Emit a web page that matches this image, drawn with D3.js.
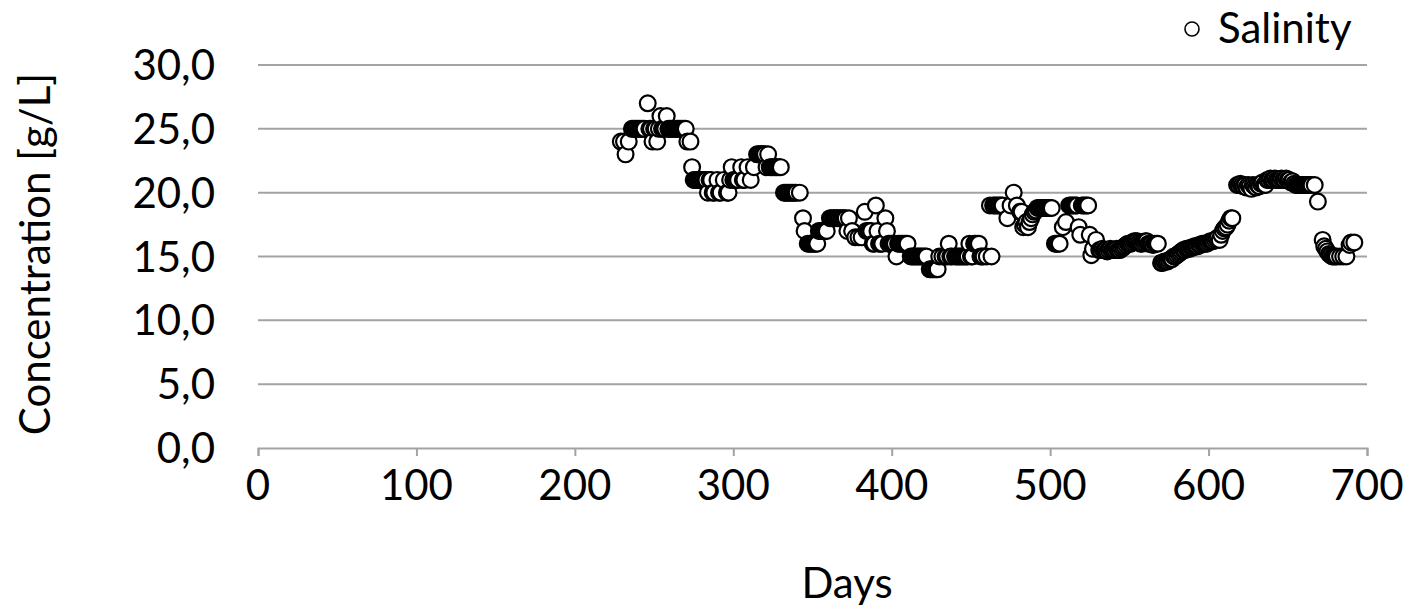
<!DOCTYPE html>
<html>
<head>
<meta charset="utf-8">
<script src="https://cdn.jsdelivr.net/npm/d3@7"></script>
<style>
  html, body { margin: 0; padding: 0; background: #fff; }
  svg { display: block; font-family: Lato, "Open Sans", "Noto Sans", sans-serif; }
</style>
</head>
<body>
<svg id="chart" width="1410" height="609"></svg>
<script>
// Sampling day of each salinity measurement
const days = [
  229,231,232,234,236,237,238,239,240,241,242,243,244,246,247,248,249,250,251,252,
  253,254,255,256,257,258,259,260,261,262,263,264,265,266,267,268,269,270,271,273,
  274,275,276,277,278,279,280,281,282,283,284,285,286,287,288,290,291,292,294,296,
  297,298,299,300,301,302,303,305,306,307,309,311,313,315,316,317,318,319,320,321,
  322,323,324,325,326,327,328,329,330,332,333,334,335,336,337,338,339,340,342,344,
  345,347,348,349,350,351,352,353,354,355,356,357,358,359,361,362,363,364,365,366,
  367,368,369,370,371,372,373,375,377,379,381,383,384,385,386,387,388,389,390,391,
  392,393,394,396,397,398,399,400,401,402,403,404,405,406,407,408,409,410,412,413,
  414,415,416,417,418,419,420,421,422,424,425,426,427,428,429,430,432,434,435,436,
  437,438,440,441,442,443,444,445,446,447,448,449,450,451,452,453,454,455,456,457,
  458,460,462,463,464,465,466,467,468,469,470,473,475,477,479,481,482,483,484,485,
  486,487,488,489,490,491,492,493,494,495,496,497,498,499,500,501,503,504,505,506,
  508,510,512,513,514,515,516,517,518,519,520,521,522,523,524,525,526,527,529,531,
  532,533,534,535,536,537,538,539,540,541,542,543,544,545,546,547,548,549,550,551,
  552,553,554,555,556,557,558,559,560,561,562,563,564,565,566,567,568,570,571,572,
  573,574,575,576,577,578,579,580,581,582,583,584,585,586,587,588,589,590,591,592,
  593,594,595,596,597,598,599,600,601,602,603,604,605,606,607,608,609,610,611,612,
  613,614,615,618,619,620,621,622,623,624,625,626,627,628,629,630,631,632,633,634,
  635,636,637,638,639,640,641,642,643,644,645,646,647,648,649,650,651,652,653,654,
  655,656,657,658,659,660,661,662,663,664,665,667,669,672,673,674,675,676,677,678,
  679,680,681,683,685,687,689,690,692
];

// Salinity in g/L, one value per sampling day above
const salinity = [
  24,24,23,24,25,25,25,25,25,25,25,25,25,27,25,25,24,25,25,24,
  25,26,25,25,25,26,25,25,25,25,25,25,25,25,25,25,25,25,24,24,
  22,21,21,21,21,21,21,21,21,21,20,21,21,20,20,21,20,20,21,20,
  20,21,22,21,21,21,21,22,21,21,22,21,22,23,23,23,23,23,23,22,
  23,22,22,22,22,22,22,22,22,20,20,20,20,20,20,20,20,20,20,18,
  17,16,16,16,16,16,16,16,17,17,17,17,17,17,18,18,18,18,18,18,
  18,18,18,18,18,17,18,17,16.5,16.5,16.5,18.5,17,17,17,17,16,16,19,17,
  16,16,16,18,17,16,16,16,16,16,15,16,16,16,16,16,16,16,15,15,
  15,15,15,15,15,15,15,15,15,14,14,14,14,14,14,15,15,15,15,16,
  15,15,15,15,15,15,15,15,15,15,15,16,15,15,16,16,16,16,15,15,
  15,15,19,15,19,19,19,19,19,19,19,18,19,20,19,18.5,18.5,17.3,17.5,17.7,
  17.3,17.7,18,18.3,18.5,18.6,18.8,18.8,18.8,18.8,18.8,18.8,18.8,18.8,18.8,18.8,16,16,16,16,
  17.3,17.7,19,19,19,19,19,19,17.3,16.7,19,19,19,19,19,16.7,15.1,15.6,16.3,15.5,
  15.5,15.6,15.5,15.5,15.4,15.5,15.6,15.5,15.5,15.5,15.6,15.5,15.5,15.6,15.7,15.8,15.9,16,16,16,
  16.1,16.2,16.2,16.2,16.1,16,16,16.1,16.2,16.2,16,16,16,15.9,16,16,16,14.5,14.5,14.6,
  14.6,14.6,14.7,14.8,14.8,15,15,15.1,15.2,15.3,15.4,15.5,15.5,15.6,15.6,15.6,15.7,15.7,15.8,15.8,
  15.8,15.9,15.9,16,16,16,16,16.1,16.2,16.2,16.2,16.3,16.4,16.5,16.3,16.7,17,17.2,17.3,17.5,
  17.8,18,18,20.6,20.6,20.7,20.6,20.5,20.6,20.4,20.6,20.5,20.3,20.6,20.5,20.4,20.6,20.5,20.7,20.8,
  20.6,20.6,21,21,21.1,21,21,21.1,21,21,21,21.1,21,21,21.1,21,21,20.8,20.9,20.7,
  20.6,20.6,20.6,20.6,20.6,20.6,20.6,20.6,20.6,20.6,20.6,20.6,19.3,16.3,15.8,15.6,15.4,15.2,15.1,15,
  15,15,15,15,15,15,15.9,16.1,16.1
];

const xTicks = [0, 100, 200, 300, 400, 500, 600, 700];
const yTicks = [0, 5, 10, 15, 20, 25, 30];
const seriesName = "Salinity";
const xTitle = "Days";
const yTitle = "Concentration [g/L]";

const svg = d3.select("#chart");
const fontSize = 42;

const x = d3.scaleLinear().domain([0, 700]).range([258, 1367]);
const y = d3.scaleLinear().domain([0, 30]).range([448, 65]);

// Numbers use a decimal comma
const locale = d3.formatLocale({ decimal: ",", thousands: ".", grouping: [3], currency: ["", ""] });
const fmtY = locale.format(".1f");

// Horizontal gridlines (excluding the baseline)
svg.append("g")
  .selectAll("line")
  .data(yTicks.filter(d => d > 0))
  .join("line")
  .attr("x1", x(0)).attr("x2", x(700))
  .attr("y1", d => y(d)).attr("y2", d => y(d))
  .attr("stroke", "#a3a3a3").attr("stroke-width", 2);

// X axis: baseline with downward ticks
const xAxis = svg.append("g")
  .attr("transform", `translate(0,${y(0)})`)
  .call(d3.axisBottom(x).tickValues(xTicks).tickSize(8).tickFormat(""));
xAxis.select(".domain").attr("stroke", "#a3a3a3").attr("stroke-width", 2);
xAxis.selectAll(".tick line").attr("stroke", "#a3a3a3").attr("stroke-width", 2);

// X tick labels
svg.append("g")
  .selectAll("text")
  .data(xTicks)
  .join("text")
  .attr("x", d => x(d))
  .attr("y", 500)
  .attr("text-anchor", "middle")
  .attr("font-size", fontSize)
  .attr("fill", "#000")
  .text(d => d);

// Y tick labels
svg.append("g")
  .selectAll("text")
  .data(yTicks)
  .join("text")
  .attr("x", 215)
  .attr("y", d => y(d) + 15)
  .attr("text-anchor", "end")
  .attr("font-size", fontSize)
  .attr("fill", "#000")
  .text(d => fmtY(d));

// Axis titles
svg.append("text")
  .attr("x", 847).attr("y", 598)
  .attr("text-anchor", "middle")
  .attr("font-size", fontSize)
  .text(xTitle);

svg.append("text")
  .attr("transform", "translate(50,254) rotate(-90)")
  .attr("text-anchor", "middle")
  .attr("font-size", fontSize)
  .text(yTitle);

// Salinity markers
const points = days.map((d, i) => ({ day: d, value: salinity[i] }));
svg.append("g")
  .selectAll("circle")
  .data(points)
  .join("circle")
  .attr("cx", d => x(d.day))
  .attr("cy", d => y(d.value))
  .attr("r", 7.9)
  .attr("fill", "#fff")
  .attr("stroke", "#000")
  .attr("stroke-width", 2.2);

// Legend
const legend = svg.append("g");
legend.append("circle")
  .attr("cx", 1192).attr("cy", 29)
  .attr("r", 7)
  .attr("fill", "#fff")
  .attr("stroke", "#000")
  .attr("stroke-width", 1.6);
legend.append("text")
  .attr("x", 1218).attr("y", 43)
  .attr("font-size", fontSize)
  .text(seriesName);
</script>
</body>
</html>
